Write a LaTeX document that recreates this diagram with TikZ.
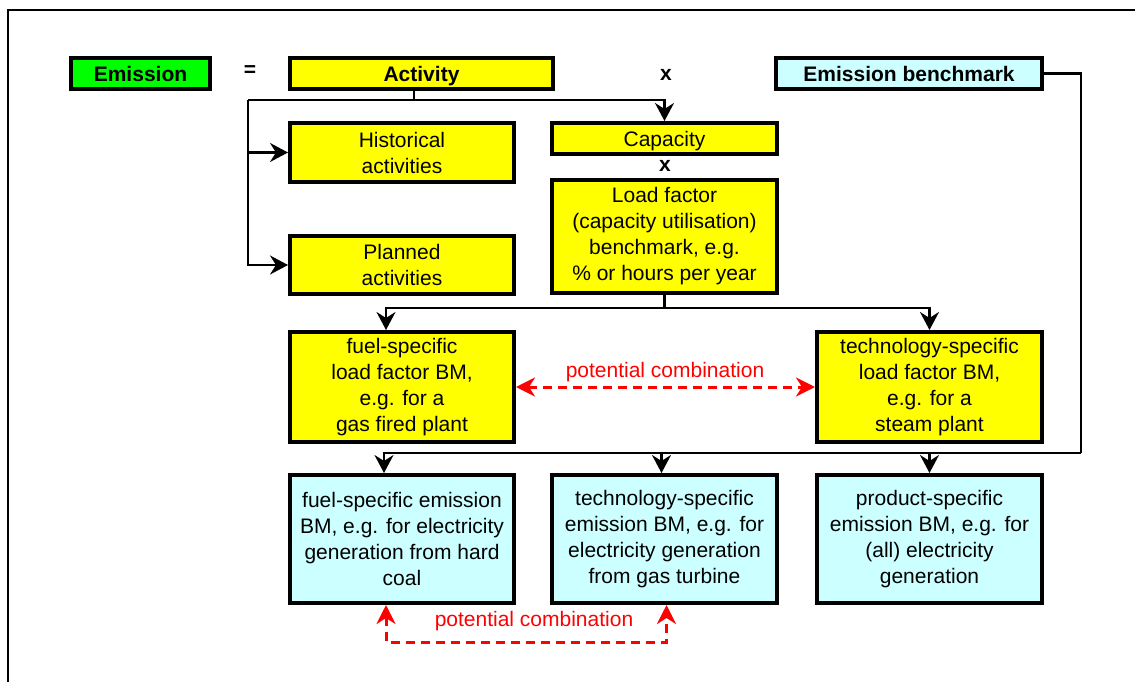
\documentclass[tikz,border=0pt]{standalone}
\usepackage{fontspec}
\setmainfont{Liberation Sans}
\usetikzlibrary{arrows.meta,calc}
\definecolor{boxyellow}{RGB}{255,255,0}
\definecolor{boxgreen}{RGB}{0,255,0}
\definecolor{boxcyan}{RGB}{204,255,255}
\definecolor{dashred}{RGB}{255,0,0}
\begin{document}
\begin{tikzpicture}[x=1pt,y=-1pt,
  box/.style={draw=black,line width=4pt,inner sep=0pt,align=center,
    font=\fontsize{21}{26}\selectfont},
  onebox/.style={box,text height=15.5pt,text depth=0pt},
  topbox/.style={onebox,font=\bfseries\fontsize{21}{26}\selectfont,minimum height=31pt},
  conn/.style={draw=black,line width=2.2pt},
  arr/.style={-{Stealth[length=18pt,width=19pt,inset=6pt]}},
  combo/.style={draw=dashred,line width=3pt,dash pattern=on 9pt off 6pt,
    {Stealth[length=19pt,width=19pt,inset=6pt]}-{Stealth[length=19pt,width=19pt,inset=6pt]}},
  oplbl/.style={font=\bfseries\fontsize{21}{26}\selectfont,inner sep=0pt},
  redlbl/.style={text=dashred,font=\fontsize{21}{26}\selectfont,inner sep=0pt}]
\useasboundingbox (0,0) rectangle (1135,682);
\fill[white] (0,0) rectangle (1135,682);
% frame
\draw[line width=2.5pt] (8,700) -- (8,10) -- (1150,10);

% top row
\node[topbox,fill=boxgreen,minimum width=139pt] (em) at (140.5,73.5) {Emission};
\node[oplbl] (eq) at (250,71) {=};
\node[topbox,fill=boxyellow,minimum width=263pt] (act) at (421.5,73.5) {Activity};
\node[oplbl] (xa) at (666,75) {x};
\node[topbox,fill=boxcyan,minimum width=266pt] (bm) at (909,73.5) {Emission benchmark};

% activity branch
\node[box,fill=boxyellow,minimum width=224pt,minimum height=59pt] (hist) at (402,152.5) {Historical\\activities};
\node[box,fill=boxyellow,minimum width=224pt,minimum height=58pt] (plan) at (402,265) {Planned\\activities};
\node[onebox,fill=boxyellow,minimum width=225pt,minimum height=31pt] (cap) at (664.5,138.5) {Capacity};
\node[oplbl] (xb) at (665,166) {x};
\node[box,fill=boxyellow,minimum width=225pt,minimum height=113pt] (lf) at (664.5,236.5)
  {Load factor\\(capacity utilisation)\\benchmark, e.g.\\\% or hours per year};

% load factor BMs
\node[box,fill=boxyellow,minimum width=224pt,minimum height=110pt] (flf) at (402,387)
  {fuel-specific\\load factor BM,\\e.g. for a\\gas fired plant};
\node[box,fill=boxyellow,minimum width=225pt,minimum height=110pt] (tlf) at (929.5,387)
  {technology-specific\\load factor BM,\\e.g. for a\\steam plant};

% emission BMs
\node[box,fill=boxcyan,minimum width=224pt,minimum height=128pt] (fem) at (402,539)
  {fuel-specific emission\\BM, e.g. for electricity\\generation from hard\\coal};
\node[box,fill=boxcyan,minimum width=225pt,minimum height=128pt] (tem) at (664.5,539)
  {technology-specific\\emission BM, e.g. for\\electricity generation\\from gas turbine};
\node[box,fill=boxcyan,minimum width=225pt,minimum height=128pt] (pem) at (929.5,539)
  {product-specific\\emission BM, e.g. for\\(all) electricity\\generation};

% connectors from Activity
\coordinate (j1) at (414,100);
\coordinate (tl) at (248,100);
\draw[conn] (j1 |- act.south) -- (j1);
\draw[conn,arr] (tl) -| (cap.north);
\draw[conn,arr] (tl) |- (plan.west);
\draw[conn,arr] (tl |- hist.west) -- (hist.west);

% connectors from load factor
\coordinate (j2) at (664.5,308);
\draw[conn] (lf.south) -- (j2);
\draw[conn,arr] (j2) -| ($(flf.north)+(-16,0)$);
\draw[conn,arr] (j2) -| (tlf.north);

% connectors from emission benchmark
\coordinate (rb) at (1081,453);
\draw[conn] (bm.east) -| (rb);
\draw[conn,arr] (rb) -| (pem.north);
\draw[conn,arr] (rb) -| ($(tem.north)+(-3,0)$);
\draw[conn,arr] (rb) -| ($(fem.north)+(-18,0)$);

% potential combinations
\draw[combo] (flf.east) -- (tlf.west);
\node[redlbl] (pc1) at (665,372) {potential combination};
\draw[combo] ($(fem.south)+(-16,0)$) -- ++(0,37) -| ($(tem.south)+(2,0)$);
\node[redlbl] (pc2) at (534,621) {potential combination};
\end{tikzpicture}
\end{document}
